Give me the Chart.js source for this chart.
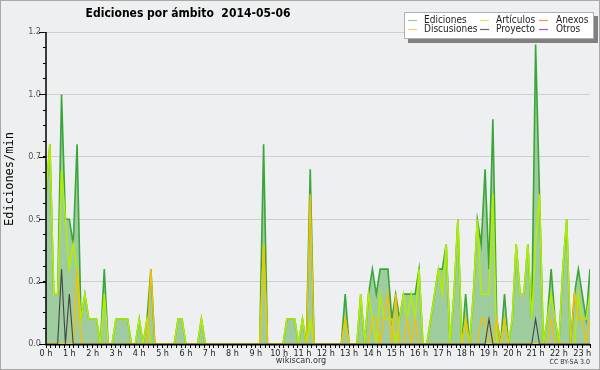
<!DOCTYPE html>
<html><head><meta charset="utf-8">
<script src="https://cdn.jsdelivr.net/npm/chart.js@4"></script>
<style>html,body{margin:0;padding:0;background:#eeeff0;}#wrap{width:600px;height:370px;position:relative;}</style>
</head><body><div id="wrap"><canvas id="c" width="600" height="370"></canvas></div>
<script>
const chartTitle = 'Ediciones por ámbito  2014-05-06';
const yAxisTitle = 'Ediciones/min';
const footerLeft = 'wikiscan.org';
const footerRight = 'CC BY-SA 3.0';
const seriesNames = ['Ediciones','Artículos','Anexos','Discusiones','Proyecto','Otros'];
const hourTicks = ['0 h','1 h','2 h','3 h','4 h','5 h','6 h','7 h','8 h','9 h','10 h','11 h','12 h','13 h','14 h','15 h','16 h','17 h','18 h','19 h','20 h','21 h','22 h','23 h'];
const yTickLabels = ['0.0','0.2','0.5','0.7','1.0','1.2'];
const binMinutes = 10;

const ediciones = [
.6,.8,.2,.2,1.0,.5,.5,.4,.8,.1,
.2,.1,.1,.1,0,.3,0,0,.1,.1,
.1,.1,0,0,.1,0,.1,.3,0,0,
0,0,0,0,.1,.1,0,0,0,0,
.1,0,0,0,0,0,0,0,0,0,
0,0,0,0,0,0,.8,0,0,0,
0,0,.1,.1,.1,0,.1,0,.7,0,
0,0,0,0,0,0,0,.2,0,0,
0,.2,0,.2,.3,.2,.3,.3,.3,.1,
.2,.1,.2,.2,.2,.2,.3,0,0,.1,
.2,.3,.3,.4,0,.2,.5,0,.2,0,
.2,.5,.4,.7,.3,.9,.1,0,.2,0,
.1,.4,.2,.2,.4,.1,1.2,.6,0,.1,
.3,.1,0,.3,.5,0,.2,.3,.2,.1,
.3];
const articulos = [
.6,.8,.2,.2,.7,.5,.3,.4,.3,.1,
.2,.1,.1,.1,0,.2,0,0,.1,.1,
.1,.1,0,0,.1,0,.1,0,0,0,
0,0,0,0,.1,.1,0,0,0,0,
.1,0,0,0,0,0,0,0,0,0,
0,0,0,0,0,0,.4,0,0,0,
0,0,.1,.1,.1,0,.1,0,.1,0,
0,0,0,0,0,0,0,.1,0,0,
0,.2,0,.2,.1,0,.2,.1,.1,.1,
0,.1,.2,.1,.2,.1,.3,0,0,.1,
.2,.3,.2,.4,0,.2,.5,0,.1,0,
.2,.5,.2,.2,.2,.6,0,0,.1,0,
.1,.4,.2,.2,.4,.1,.4,.6,0,.1,
.2,.1,0,.3,.5,0,0,.2,.1,.1,
.2];
const discusiones = [
0,0,0,0,0,0,0,0,.3,0,
0,0,0,0,0,0,0,0,0,0,
0,0,0,0,0,0,0,.3,0,0,
0,0,0,0,0,0,0,0,0,0,
0,0,0,0,0,0,0,0,0,0,
0,0,0,0,0,0,.4,0,0,0,
0,0,0,0,0,0,0,0,.6,0,
0,0,0,0,0,0,0,.1,0,0,
0,0,0,0,.1,.1,0,.1,.2,0,
.2,0,0,.1,0,.1,0,0,0,0,
0,0,0,0,0,0,0,0,.1,0,
0,0,.1,.1,0,0,.1,0,.1,0,
0,0,0,0,0,0,0,0,0,0,
.1,0,0,0,0,0,.2,.1,.1,0,
.1];
const proyecto = [
0,0,0,0,.3,0,.2,0,0,0,
0,0,0,0,0,0,0,0,0,0,
0,0,0,0,0,0,0,0,0,0,
0,0,0,0,0,0,0,0,0,0,
0,0,0,0,0,0,0,0,0,0,
0,0,0,0,0,0,0,0,0,0,
0,0,0,0,0,0,0,0,0,0,
0,0,0,0,0,0,0,0,0,0,
0,0,0,0,0,0,0,0,0,0,
0,0,0,0,0,0,0,0,0,0,
0,0,0,0,0,0,0,0,0,0,
0,0,0,0,.1,0,0,0,0,0,
0,0,0,0,0,0,.1,0,0,0,
0,0,0,0,0,0,0,0,0,0,
0];
const anexos = [];
const otros = [];

const FONT = "'DejaVu Sans Condensed','DejaVu Sans',sans-serif";
const toPts = arr => arr.map((v, i) => ({x: i * binMinutes, y: v}));
const lastMinute = (ediciones.length - 1) * binMinutes;

const styles = {
  Ediciones:   {line:'#3aa63a', legend:'#8fd08f', width:1.6, order:6},
  'Artículos': {line:'#b2ee00', legend:'#ccf066', width:1.6, order:4},
  Anexos:      {line:'#ff7744', legend:'#ff8855', width:1.2, order:3},
  Discusiones: {line:'#f5c000', legend:'#ffd055', width:1.4, order:2},
  Proyecto:    {line:'#444444', legend:'#666666', width:1.1, order:1},
  Otros:       {line:'#9944ee', legend:'#9955ee', width:1.2, order:0}
};
const seriesData = {Ediciones:ediciones,'Artículos':articulos,Anexos:anexos,Discusiones:discusiones,Proyecto:proyecto,Otros:otros};

const datasets = seriesNames.map(n => {
  const s = styles[n];
  const d = {label:n, data:toPts(seriesData[n]), borderColor:s.line, borderWidth:s.width,
    pointRadius:0, tension:0, order:s.order, fill:false, legendColor:s.legend};
  if (n === 'Ediciones') { d.fill = 'origin'; d.backgroundColor = '#9fcc9f'; }
  return d;
});

const decor = {
  id:'decor',
  beforeDraw(chart){
    const c = chart.ctx;
    c.save(); c.fillStyle='#eeeff0'; c.fillRect(0,0,600,370); c.restore();
  },
  afterDatasetsDraw(chart){
    const c = chart.ctx, a = chart.chartArea, y = chart.scales.y;
    c.save();
    c.strokeStyle = '#000'; c.lineWidth = 1.5;
    c.beginPath(); c.moveTo(a.left, a.top); c.lineTo(a.left, a.bottom + 0.75); c.lineTo(a.right, a.bottom + 0.75); c.stroke();
    c.lineWidth = 1;
    yTickLabels.forEach((_, k) => {
      const py = Math.round(y.getPixelForValue(k * 0.25)) + 0.5;
      c.beginPath(); c.moveTo(a.left - 7, py); c.lineTo(a.left, py); c.stroke();
    });
    c.restore();
  },
  afterDraw(chart){
    const c = chart.ctx;
    c.save();
    c.strokeStyle = '#a8a8a8'; c.lineWidth = 1; c.strokeRect(0.5,0.5,599,369);
    c.fillStyle = '#000'; c.font = 'bold 12px ' + FONT; c.textAlign='center'; c.textBaseline='middle';
    c.fillText(chartTitle, 188, 14);
    c.font = '9px ' + FONT; c.fillStyle = '#333';
    c.fillText(footerLeft, 301, 361);
    c.font = '7px ' + FONT; c.textAlign='right';
    c.fillText(footerRight, 590, 362);
    // y axis title
    c.save();
    c.translate(10, 179); c.rotate(-Math.PI / 2);
    c.font = "12px 'DejaVu Sans Mono',monospace"; c.fillStyle = '#000'; c.textAlign='center'; c.textBaseline='middle';
    c.fillText(yAxisTitle, 0, 0);
    c.restore();
    // legend
    const bx = 404, by = 12, bw = 190, bh = 27;
    c.fillStyle = '#808080'; c.fillRect(bx+4, by+4, bw, bh);
    c.fillStyle = '#ffffff'; c.fillRect(bx, by, bw, bh);
    c.strokeStyle = '#b0b0b0'; c.strokeRect(bx+0.5, by+0.5, bw-1, bh-1);
    const cols = [[408,424],[480,496],[539,556]];
    const rows = [20, 29];
    c.font = '10px ' + FONT; c.textAlign='left'; c.textBaseline='middle';
    chart.data.datasets.forEach((ds, i) => {
      const col = cols[i % 3], row = rows[Math.floor(i / 3)];
      c.strokeStyle = ds.legendColor; c.lineWidth = 1.2;
      c.beginPath(); c.moveTo(col[0], row + 0.5); c.lineTo(col[0] + 9, row + 0.5); c.stroke();
      c.fillStyle = '#222'; c.fillText(ds.label, col[1], row);
    });
    c.restore();
  }
};

new Chart(document.getElementById('c'), {
  type:'line',
  data:{datasets},
  options:{
    responsive:false, animation:false, devicePixelRatio:1,
    layout:{padding:{top:32, right:10, left:0, bottom:0}},
    plugins:{legend:{display:false}, title:{display:false}, tooltip:{enabled:false}},
    scales:{
      x:{type:'linear', min:0, max:lastMinute,
        afterFit(s){ s.height = 26; },
        grid:{drawOnChartArea:false, tickLength:4, tickColor:'#000'},
        border:{display:false},
        ticks:{stepSize:12, maxTicksLimit:200, autoSkip:false, maxRotation:0, padding:0,
          color:'#222', font:{family:FONT, size:9},
          callback(v){ const h = v / 60; return Math.abs(h - Math.round(h)) < 1e-6 ? hourTicks[Math.round(h)] : ''; }}
      },
      y:{type:'linear', min:0, max:1.25,
        afterFit(s){ s.width = 46; },
        grid:{tickLength:3, tickColor:'#000',
          color(ctx){ const k = ctx.tick ? ctx.tick.value / 0.25 : 0.5; return Math.abs(k - Math.round(k)) < 1e-9 && ctx.tick.value > 0 ? '#cfcfcf' : 'rgba(0,0,0,0)'; }},
        border:{display:false},
        title:{display:false},
        ticks:{stepSize:0.0625, maxTicksLimit:100, padding:2, color:'#555', font:{family:FONT, size:9},
          callback(v){ const k = v / 0.25; return Math.abs(k - Math.round(k)) < 1e-9 ? yTickLabels[Math.round(k)] : ''; }}
      }
    }
  },
  plugins:[decor]
});
</script></body></html>
